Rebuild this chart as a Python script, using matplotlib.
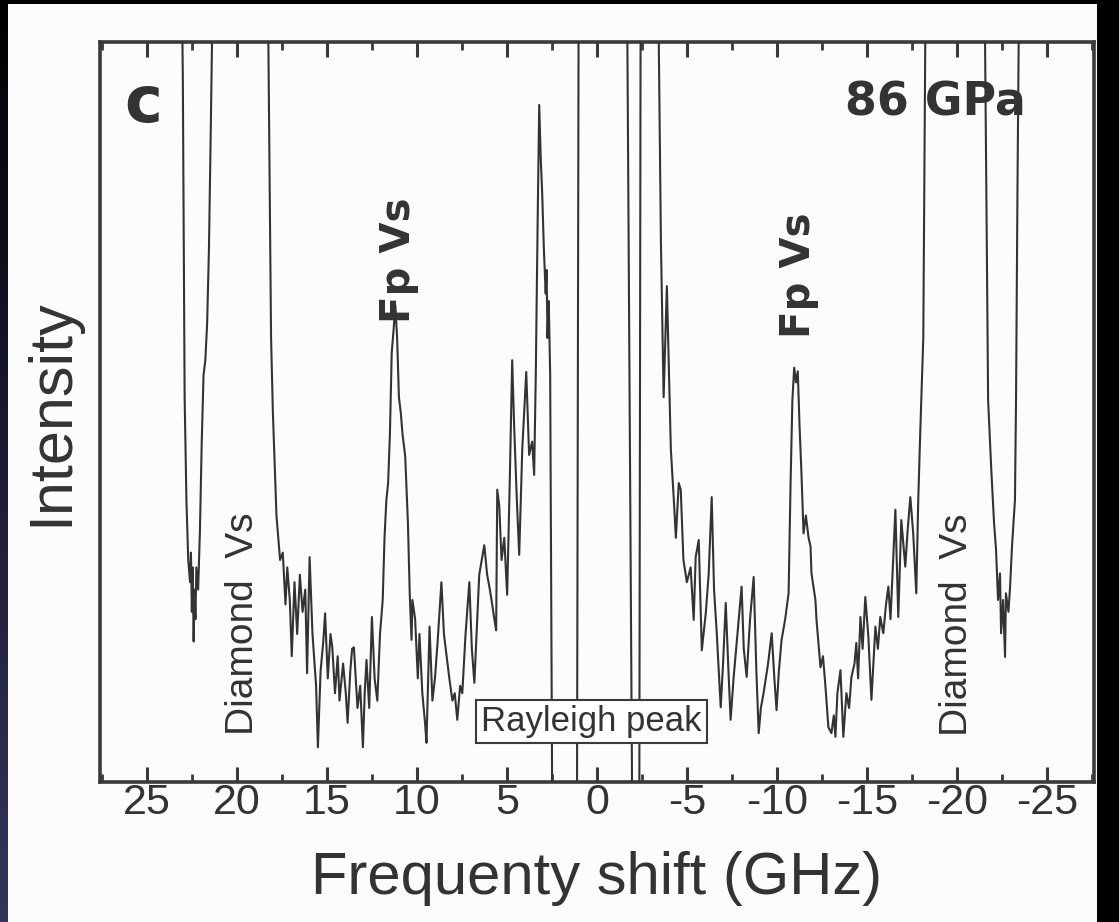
import numpy as np
import matplotlib
matplotlib.use("Agg")
import matplotlib.pyplot as plt
from matplotlib.patches import Rectangle
from matplotlib.colors import LinearSegmentedColormap
from matplotlib.ticker import MultipleLocator

# ---------------- data ----------------
freq_ghz = [
    23.15, 23.0, 22.9, 22.8, 22.7, 22.6, 22.55, 22.5, 22.45, 22.4, 22.35, 22.3, 22.25,
    22.15, 22.05, 21.95, 21.85, 21.75, 21.65, 21.55, 21.45, 21.35, 21.2, 19.5, 18.4,
    18.25, 18.1, 18.0, 17.8, 17.6, 17.45, 17.3, 17.2, 17.06, 16.95, 16.8, 16.65, 16.5,
    16.35, 16.2, 16.1, 15.96, 15.8, 15.6, 15.5, 15.35, 15.2, 15.1, 14.95, 14.8, 14.7,
    14.55, 14.4, 14.3, 14.1, 13.95, 13.85, 13.7, 13.6, 13.5, 13.3, 13.15, 13.0, 12.9,
    12.8, 12.65, 12.5, 12.35, 12.2, 12.05, 11.9, 11.8, 11.7, 11.6, 11.5, 11.4, 11.3,
    11.2, 11.1, 11.0, 10.9, 10.8, 10.65, 10.5, 10.4, 10.3, 10.25, 10.1, 9.95, 9.86,
    9.7, 9.55, 9.47, 9.3, 9.14, 9.0, 8.85, 8.64, 8.5, 8.37, 8.2, 8.03, 7.9, 7.76, 7.6,
    7.48, 7.3, 7.09, 6.95, 6.81, 6.65, 6.54, 6.4, 6.26, 6.1, 5.95, 5.82, 5.7, 5.6,
    5.54, 5.43, 5.3, 5.15, 4.99, 4.85, 4.71, 4.6, 4.45, 4.32, 4.15, 4.0, 3.93, 3.85,
    3.77, 3.6, 3.49, 3.4, 3.3, 3.21, 3.12, 3.05, 2.95, 2.85, 2.8, 2.75, 2.68, 2.6,
    2.49, 1.11, 1.0, 0.0, -1.61, -1.95, -2.35, -2.44, -3.0, -3.38, -3.43, -3.55, -3.7,
    -3.88, -4.0, -4.1, -4.27, -4.38, -4.54, -4.65, -4.8, -4.99, -5.2, -5.37, -5.48,
    -5.65, -5.82, -6.04, -6.2, -6.37, -6.5, -6.65, -6.87, -7.0, -7.15, -7.3, -7.42,
    -7.59, -7.8, -8.03, -8.15, -8.31, -8.5, -8.7, -8.85, -8.98, -9.1, -9.25, -9.5,
    -9.7, -9.85, -9.97, -10.1, -10.25, -10.45, -10.64, -10.75, -10.85, -10.95, -11.05,
    -11.15, -11.25, -11.35, -11.47, -11.6, -11.75, -11.86, -11.91, -12.13, -12.19,
    -12.41, -12.55, -12.69, -12.85, -13.02, -13.15, -13.24, -13.35, -13.52, -13.68,
    -13.85, -14.0, -14.13, -14.3, -14.4, -14.5, -14.63, -14.75, -14.9, -15.07, -15.24,
    -15.46, -15.6, -15.73, -15.9, -16.05, -16.18, -16.3, -16.45, -16.57, -16.73, -16.9,
    -17.12, -17.25, -17.4, -17.56, -17.73, -17.84, -17.95, -18.12, -18.23, -18.35,
    -20.0, -21.45, -21.55, -21.72, -21.9, -22.05, -22.16, -22.27, -22.38, -22.44,
    -22.55, -22.66, -22.71, -22.85, -22.94, -23.05, -23.21, -23.27, -23.35, -23.42,
    -23.5,
]
intensity = [
    130, 95, 52, 38, 30, 27, 31, 23, 29, 19, 26, 22, 29,
    26, 34, 46, 55, 57, 62, 72, 88, 105, 130, 150, 130,
    100, 60, 50, 36, 30, 31, 24, 29, 24.6, 17, 27, 20, 28,
    23, 26, 14.7, 30.4, 20, 13, 4.7, 15, 19, 22.8, 14, 20, 18.2,
    12, 17, 11, 16, 12, 8, 15, 18, 18.2, 10, 13, 4.7, 12,
    16.5, 10, 22.3, 14, 11, 20, 24.6, 33, 38, 40.4, 47, 58, 61,
    64.4, 60, 52, 50, 47, 44, 35, 25.5, 19.2, 24.6, 22, 14, 20,
    12, 8, 5.3, 21, 11, 14, 19, 27, 20, 17.4, 14, 11, 12, 8.4, 13,
    12, 20, 27, 18, 13.4, 22, 28, 30, 32, 28, 26, 24, 22, 20.5,
    39.5, 37.4, 30, 33, 25.3, 40, 57, 48, 38, 30.7, 45, 52, 55.4, 50,
    44.2, 46, 41.5, 55, 75, 91.5, 84, 80, 72, 66, 69.2, 60, 65, 55,
    -2, -2, 130, 300, 130, -2, -2, 130, 200, 130, 100, 73, 52,
    67, 55, 45, 38, 33, 40.4, 39.5, 30, 27, 29, 21.9, 30.4,
    32.7, 17.8, 22.8, 28, 38.5, 26, 20.1, 10.1, 16, 24.2, 15, 8.4,
    14.2, 20, 26.4, 18, 14.2, 22, 27.7, 15, 6.6, 10, 12, 16,
    20.1, 14, 9.7, 15, 19.2, 22, 25.5, 40.4, 51.6, 56, 54,
    55.5, 48, 42, 33.6, 36, 33, 31.8, 28.2, 24.6, 21.9,
    15.5, 17, 12.8, 7.4, 6.6, 9, 6.1, 12, 15.1, 6.1,
    12, 10, 14.2, 16, 18.8, 14, 22.3, 18, 25, 19.6, 11.1,
    21, 18, 22.3, 20.1, 24, 26.4, 22, 30.4, 36.8, 22.3, 35.4,
    29.1, 34, 38.5, 33.6, 25.5, 38.1, 47.2, 60, 100, 130,
    150, 130, 100, 51.6, 42, 35, 31.4, 24.6, 28.2, 20.1,
    24.6, 16.9, 25.5, 23, 26.4, 32, 38.1, 51.6, 80, 100,
    130,
]

tick_values = [25, 20, 15, 10, 5, 0, -5, -10, -15, -20, -25]
tick_labels = ["25", "20", "15", "10", "5", "0", "-5", "-10", "-15", "-20", "-25"]

x_label = "Frequenty shift (GHz)"
y_label = "Intensity"
panel_letter = "c"
pressure_text = "86 GPa"
rayleigh_text = "Rayleigh peak"
fp_text = "Fp Vs"
diamond_text = "Diamond  Vs"

# ---------------- styling ----------------
W, H = 1119, 922
ink = "#333333"
frame = "#3a3a3a"
sans = ["Liberation Sans", "DejaVu Sans"]
bold = ["DejaVu Sans"]

fig = plt.figure(figsize=(W / 100, H / 100), dpi=100, facecolor="black")

# white sheet with black margins (drawn beneath the axes)
fig.patches.append(Rectangle((8 / W, 0), (1097 - 8) / W, (H - 4) / H,
                             transform=fig.transFigure, facecolor="#fcfcfc",
                             edgecolor="none", zorder=-10))
# bluish strip on the left edge
gax = fig.add_axes([0, 0, 8 / W, 1])
grad = np.linspace(0, 1, 256).reshape(-1, 1)
cmap = LinearSegmentedColormap.from_list("strip", ["#35355c", "#1b1b33", "#000000"])
gax.imshow(grad, aspect="auto", cmap=cmap, origin="lower", extent=[0, 1, 0, 1])
gax.axis("off")

ax = fig.add_axes([100 / W, 140 / H, 994 / W, 740 / H])
ax.set_facecolor("#fcfcfc")

ax.plot(freq_ghz, intensity, color=ink, lw=1.5, zorder=3)

ax.set_xlim(27.6, -27.6)
ax.set_ylim(0, 100)

ax.set_xticks(tick_values, labels=tick_labels)
ax.xaxis.set_minor_locator(MultipleLocator(2.5))
ax.set_yticks([])
ax.tick_params(axis="x", which="major", direction="in", top=True, bottom=True,
               length=11, width=2.2, color=frame, labelsize=31, labelcolor=ink, pad=1)
ax.tick_params(axis="x", which="minor", direction="in", top=True, bottom=True,
               length=6, width=2.0, color=frame)
for lab in ax.get_xticklabels():
    lab.set_fontfamily(sans)
for sp in ax.spines.values():
    sp.set_color(frame)
    sp.set_linewidth(2.6)

ax.set_xlabel(x_label, fontsize=43, color=ink, family=sans)
ax.xaxis.set_label_coords(0.5, -0.093)
ax.set_ylabel(y_label, fontsize=44, color=ink, family=sans)
ax.yaxis.set_label_coords(-0.020, 0.5)

# annotations
ax.text(25.2, 89.2, panel_letter, fontsize=46, fontweight="bold", color=ink,
        family=bold, ha="center", va="baseline")
ax.text(-18.78, 90.1, pressure_text, fontsize=33, fontweight="bold", color=ink,
        family=bold, ha="center", va="baseline")
ax.text(10.97, 70.5, fp_text, fontsize=29, fontweight="bold", color=ink,
        family=bold, rotation=90, ha="center", va="center")
ax.text(-11.19, 68.5, fp_text, fontsize=29, fontweight="bold", color=ink,
        family=bold, rotation=90, ha="center", va="center")
ax.text(19.67, 21.4, diamond_text, fontsize=28, color=ink, family=sans,
        rotation=90, ha="center", va="center")
ax.text(-20.0, 21.2, diamond_text, fontsize=28, color=ink, family=sans,
        rotation=90, ha="center", va="center")
ax.text(0.3, 8.2, rayleigh_text, fontsize=25, color=ink, family=sans,
        ha="center", va="center", zorder=5,
        bbox=dict(boxstyle="square,pad=0.15", fc="white", ec=frame, lw=1.5))

fig.savefig("out.png", dpi=100, facecolor=fig.get_facecolor())
